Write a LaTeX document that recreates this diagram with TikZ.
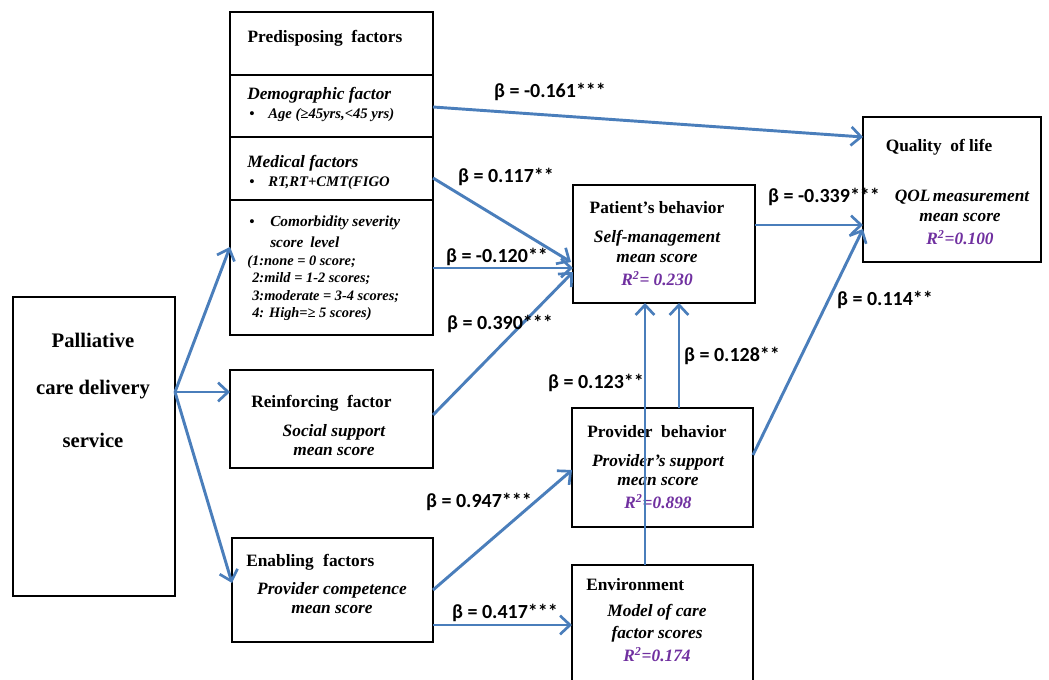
\documentclass[tikz,border=0pt]{standalone}
\usepackage{fontspec}
\setmainfont{Liberation Serif}
\newfontfamily\betafont{Carlito}
\usetikzlibrary{arrows.meta,fit}
\definecolor{arrowblue}{RGB}{74,126,187}
\definecolor{rpurple}{RGB}{112,48,160}
\tikzset{
  box/.style={draw=black, line width=2.2pt, inner sep=0pt, fill=white},
  arr/.style={draw=arrowblue, line width=2.2pt, -{Straight Barb[length=7.5pt,width=14pt,line width=2pt]}},
  ttl/.style={font=\fontsize{13}{15}\selectfont\bfseries, inner sep=0pt},
  bigttl/.style={font=\fontsize{15.5}{18}\selectfont\bfseries, inner sep=0pt},
  sub/.style={font=\fontsize{13}{15}\selectfont\bfseries\itshape, inner sep=0pt},
  itm/.style={font=\fontsize{11}{12}\selectfont\bfseries\itshape, inner sep=0pt, anchor=west},
  cmb/.style={itm, font=\fontsize{10.8}{12}\selectfont\bfseries\itshape},
  rsq/.style={sub, text=rpurple},
  beta/.style={font=\betafont\fontsize{15}{17}\selectfont\bfseries, inner sep=0pt},
}
\begin{document}
\begin{tikzpicture}[x=0.75pt, y=-0.75pt]
\useasboundingbox (0,0) rectangle (1049,680);
\clip (0,0) rectangle (1049,680);
\fill[white] (0,0) rectangle (1049,680);

% boxes
\node[box, fit={(230,12)(433,75)}] (pre) {};
\node[box, fit={(230,75)(433,137)}] (demo) {};
\node[box, fit={(230,137)(433,200)}] (med) {};
\node[box, fit={(230,200)(433,335)}] (comb) {};
\node[box, fit={(230,370)(433,468)}] (rein) {};
\node[box, fit={(232,538)(433,642)}] (enab) {};
\node[box, fit={(13,297)(175,596)}] (pall) {};
\node[box, fit={(573,185)(755,303)}] (pat) {};
\node[box, fit={(572,408)(753,527)}] (prov) {};
\node[box, fit={(572,565)(753,692)}] (env) {};
\node[box, fit={(863,117)(1041,262)}] (qol) {};

% texts
\node[ttl] (preT) at (325,38) {Predisposing\hspace{0.25em} factors};
\node[sub, anchor=west] (demoT) at (247,95) {Demographic factor};
\node[itm] (demoB) at (249,115) {•};
\node[itm] (demoI) at (268,115) {Age (≥45yrs,<45 yrs)};
\node[sub, anchor=west] (medT) at (247,163) {Medical factors};
\node[itm] (medB) at (249,183) {•};
\node[itm] (medI) at (268,183) {RT,RT+CMT(FIGO};
\node[itm] (combB) at (249,223) {•};
\node[itm, font=\fontsize{11.5}{12}\selectfont\bfseries\itshape] (combT1) at (270,223) {Comorbidity severity};
\node[itm, font=\fontsize{11.5}{12}\selectfont\bfseries\itshape] (combT2) at (270,242) {score\hspace{0.2em} level};
\node[cmb] (combL1) at (247,262) {(1:none = 0 score;};
\node[cmb] (combL2) at (252,279) {2:mild = 1-2 scores;};
\node[cmb] (combL3) at (252,297) {3:moderate = 3-4 scores;};
\node[cmb] (combL4) at (252,314) {4: High=≥ 5 scores)};

\node[ttl, anchor=west] (reinT) at (251,403) {Reinforcing\hspace{0.25em} factor};
\node[sub] (reinS1) at (334,432) {Social support};
\node[sub] (reinS2) at (334,452) {mean score};

\node[ttl, anchor=west] (enabT) at (246,562) {Enabling\hspace{0.3em} factors};
\node[sub] (enabS1) at (332,590) {Provider competence};
\node[sub] (enabS2) at (332,610) {mean score};

\node[bigttl] (pallT1) at (93,340) {Palliative};
\node[bigttl] (pallT2) at (93,390) {care delivery};
\node[bigttl] (pallT3) at (93,440) {service};

\node[ttl] (patT) at (657,208) {Patient's behavior};
\node[sub] (patS1) at (657,238) {Self-management};
\node[sub] (patS2) at (657,259) {mean score};
\node[rsq] (patR) at (657,279) {R\textsuperscript{2}= 0.230};

\node[ttl] (provT) at (657,432) {Provider\hspace{0.25em} behavior};
\node[sub] (provS1) at (658,462) {Provider's support};
\node[sub] (provS2) at (658,482) {mean score};
\node[rsq] (provR) at (658,502) {R\textsuperscript{2}=0.898};

\node[ttl, anchor=west] (envT) at (586,585) {Environment};
\node[sub] (envS1) at (657,612) {Model of care};
\node[sub] (envS2) at (657,634) {factor scores};
\node[rsq] (envR) at (657,655) {R\textsuperscript{2}=0.174};

\node[ttl] (qolT) at (939,147) {Quality\hspace{0.25em} of life};
\node[sub] (qolS1) at (962,197) {QOL\hspace{0.15em}measurement};
\node[sub] (qolS2) at (960,218) {mean score};
\node[rsq] (qolR) at (960,238) {R\textsuperscript{2}=0.100};

% ports
\coordinate (pallO) at (175,392);
\coordinate (combI) at (230,247);
\coordinate (reinI) at (230,392);
\coordinate (enabI) at (232,583);
\coordinate (demoO) at (433,107);
\coordinate (qolI1) at (863,137);
\coordinate (medO) at (433,178);
\coordinate (patI1) at (571,262);
\coordinate (combO) at (433,268);
\coordinate (patI2) at (573,268);
\coordinate (reinO) at (433,415);
\coordinate (patI3) at (573,272);
\coordinate (enabO1) at (433,590);
\coordinate (provI) at (572,470);
\coordinate (enabO2) at (433,625);
\coordinate (envI) at (572,625);
\coordinate (patO) at (755,225);
\coordinate (qolI2) at (863,225);
\coordinate (provO) at (753,455);
\coordinate (qolI3) at (863,229);
\coordinate (provU) at (679,408);
\coordinate (patD1) at (679,303);
\coordinate (envU) at (645,565);
\coordinate (patD2) at (645,303);

% connectors
\draw[arr] (pallO) -- (combI);
\draw[arr] (pallO) -- (reinI);
\draw[arr] (pallO) -- (enabI);
\draw[arr] (demoO) -- (qolI1);
\draw[arr] (medO) -- (patI1);
\draw[arr] (combO) -- (patI2);
\draw[arr] (reinO) -- (patI3);
\draw[arr] (enabO1) -- (provI);
\draw[arr] (enabO2) -- (envI);
\draw[arr] (patO) -- (qolI2);
\draw[arr] (provO) -- (qolI3);
\draw[arr] (provU) -- (patD1);
\draw[arr] (envU) -- (patD2);

% beta labels
\node[beta] (b1) at (550,92) {β = -0.161***};
\node[beta] (b2) at (506,177) {β = 0.117**};
\node[beta] (b3) at (497,257) {β = -0.120**};
\node[beta] (b4) at (500,324) {β = 0.390***};
\node[beta] (b5) at (479,502) {β = 0.947***};
\node[beta] (b6) at (505,613) {β = 0.417***};
\node[beta] (b7) at (824,197) {β = -0.339***};
\node[beta] (b8) at (885,300) {β = 0.114**};
\node[beta] (b9) at (732,356) {β = 0.128**};
\node[beta] (b10) at (596,383) {β = 0.123**};
\end{tikzpicture}
\end{document}
